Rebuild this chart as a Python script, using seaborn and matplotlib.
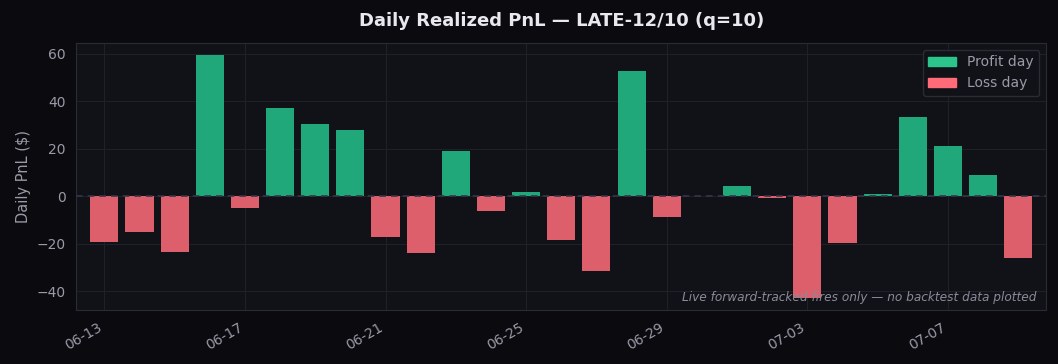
import matplotlib
matplotlib.use("Agg")
import matplotlib.pyplot as plt
import seaborn as sns
import pandas as pd
from matplotlib.patches import Patch

dates = ["06-13", "06-14", "06-15", "06-16", "06-17", "06-18", "06-19", "06-20",
         "06-21", "06-22", "06-23", "06-24", "06-25", "06-26", "06-27", "06-28",
         "06-29", "06-30", "07-01", "07-02", "07-03", "07-04", "07-05", "07-06",
         "07-07", "07-08", "07-09"]
pnl = [-19.4, -15.0, -23.4, 59.4, -4.9, 37.0, 30.3, 27.8,
       -17.3, -24.0, 19.0, -6.3, 1.7, -18.5, -31.6, 52.6,
       -8.7, 0.0, 4.2, -0.7, -43.0, -19.6, 0.8, 33.3,
       21.0, 8.8, -26.0]
tick_labels = ["06-13", "06-17", "06-21", "06-25", "06-29", "07-03", "07-07"]

FIG_BG = "#0b0a0f"
AX_BG = "#111217"
GRID = "#1f2028"
SPINE = "#2a2b35"
TXT = "#9a9aa8"
GREEN = "#20a87a"
RED = "#dc5f6b"

df = pd.DataFrame({"date": dates, "pnl": pnl})
df["kind"] = ["Profit day" if v > 0 else "Loss day" for v in pnl]

sns.set_style("dark")
plt.rcParams["font.family"] = ["DejaVu Sans"]

fig, ax = plt.subplots(figsize=(10.58, 3.64), dpi=100)
fig.patch.set_facecolor(FIG_BG)
ax.set_facecolor(AX_BG)

sns.barplot(data=df, x="date", y="pnl", hue="kind", dodge=False,
            palette={"Profit day": GREEN, "Loss day": RED},
            hue_order=["Profit day", "Loss day"], width=0.8,
            ax=ax, legend=False, saturation=1, linewidth=0, edgecolor="none",
            zorder=2)

ax.axhline(0, color="#34354a", lw=1.2, ls=(0, (4, 3)), zorder=3)

ax.set_xlim(-0.8, len(dates) - 0.2)
ax.set_ylim(-48, 64.5)
ax.set_yticks([-40, -20, 0, 20, 40, 60])
ticks = [dates.index(t) for t in tick_labels]
ax.set_xticks(ticks)
ax.set_xticklabels(tick_labels, rotation=30, ha="right")
ax.grid(True, color=GRID, lw=0.8)
ax.set_axisbelow(True)
for s in ax.spines.values():
    s.set_visible(True)
    s.set_color(SPINE)
ax.tick_params(colors=TXT, labelsize=10, length=4, color=TXT)
ax.set_xlabel("")
ax.set_ylabel("Daily PnL ($)", color=TXT, fontsize=10.5)
ax.set_title("Daily Realized PnL — LATE-12/10 (q=10)", color="#e8e8ee",
             fontsize=13, fontweight="bold", pad=12)

ax.text(0.99, 0.022, "Live forward-tracked fires only — no backtest data plotted",
        transform=ax.transAxes, ha="right", va="bottom", fontsize=8.7,
        style="italic", color="#8a8a99", zorder=10)

handles = [Patch(color="#2bc48a", label="Profit day"),
           Patch(color="#ff6b78", label="Loss day")]
leg = ax.legend(handles=handles, loc="upper right", facecolor=AX_BG,
                edgecolor=SPINE, fontsize=10, framealpha=1)
for t in leg.get_texts():
    t.set_color(TXT)

fig.subplots_adjust(left=0.072, right=0.989, top=0.882, bottom=0.148)
fig.savefig("out.png", dpi=100, facecolor=FIG_BG)
